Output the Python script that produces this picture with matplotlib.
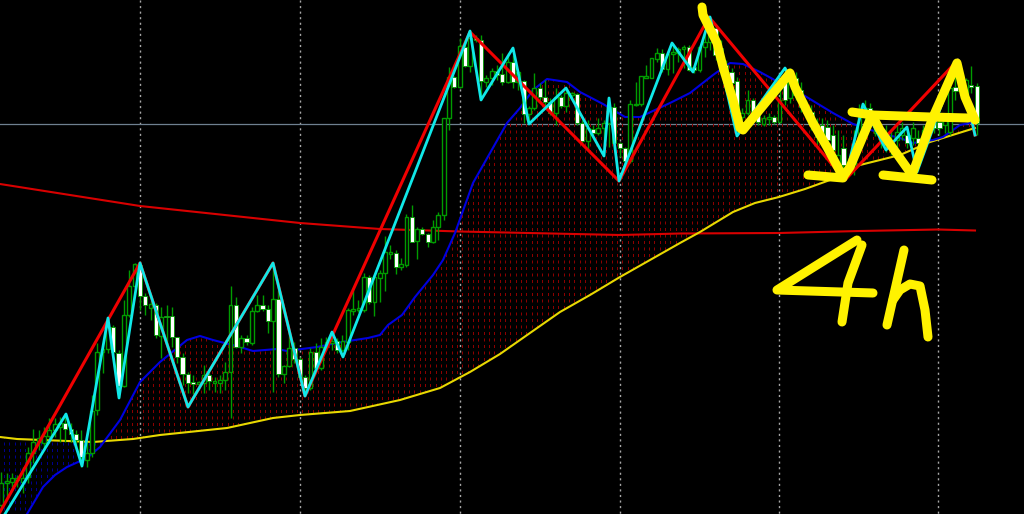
from matplotlib import pyplot as plt
from matplotlib.patches import Polygon
import numpy as np

# candles, one number per bar, y runs the same way as the picture
body_top = [483, 481, 478, 478, 478, 453, 442, 438, 436, 430,
            424, 423, 423, 429, 434, 440, 453, 411, 352, 349,
            327, 327, 353, 315, 286, 264, 265, 296, 304, 305,
            317, 316, 316, 337, 357, 374, 382, 382, 375, 375,
            381, 380, 372, 305, 305, 338, 338, 311, 305, 305,
            309, 299, 299, 366, 348, 348, 359, 377, 352, 352,
            347, 342, 341, 341, 341, 310, 309, 308, 277, 277,
            277, 273, 252, 252, 253, 264, 217, 217, 229, 229,
            234, 227, 215, 118, 77, 77, 46, 47, 38, 38,
            40, 78, 71, 71, 74, 62, 62, 72, 81, 108,
            88, 88, 97, 102, 97, 97, 93, 93, 94, 123,
            128, 129, 128, 123, 107, 107, 143, 148, 104, 104,
            76, 76, 58, 53, 53, 54, 52, 49, 47, 47,
            67, 47, 42, 20, 28, 48, 65, 72, 81, 113,
            100, 100, 115, 118, 117, 117, 100, 77, 75, 78,
            90, 106, 112, 125, 125, 127, 135, 155, 148, 165,
            145, 115, 108, 108, 120, 133, 133, 140, 132, 128,
            135, 128, 138, 130, 125, 123, 122, 120, 88, 87,
            75, 80, 85, 86]
body_bot = [505, 483, 482, 480, 482, 477, 453, 442, 443, 436,
            430, 427, 429, 434, 440, 457, 460, 453, 410, 352,
            349, 352, 386, 386, 315, 286, 296, 305, 308, 335,
            336, 317, 337, 357, 374, 383, 384, 384, 383, 381,
            383, 383, 380, 372, 347, 347, 342, 343, 311, 309,
            321, 321, 374, 374, 366, 359, 377, 388, 388, 368,
            368, 347, 343, 350, 350, 342, 311, 310, 310, 302,
            302, 278, 273, 254, 267, 267, 265, 242, 241, 234,
            242, 242, 227, 215, 118, 87, 87, 66, 66, 40,
            81, 82, 78, 75, 82, 82, 82, 82, 114, 114,
            108, 97, 102, 113, 113, 106, 106, 95, 123, 141,
            141, 133, 133, 128, 123, 143, 148, 161, 161, 105,
            104, 78, 78, 59, 69, 69, 54, 53, 49, 70,
            70, 70, 47, 42, 55, 71, 77, 83, 122, 117,
            113, 117, 122, 124, 119, 122, 122, 100, 98, 95,
            107, 112, 125, 137, 137, 140, 150, 165, 165, 170,
            167, 145, 115, 120, 133, 143, 145, 150, 140, 135,
            143, 138, 143, 135, 130, 128, 128, 125, 132, 91,
            85, 97, 87, 123]
wick_top = [472, 473, 473, 475, 467, 447, 429, 430, 427, 418,
            418, 417, 413, 423, 430, 430, 442, 395, 343, 343,
            317, 325, 350, 300, 270, 263, 263, 293, 300, 303,
            307, 305, 307, 337, 353, 372, 375, 381, 365, 373,
            377, 375, 362, 286, 297, 335, 335, 307, 295, 295,
            305, 263, 290, 365, 330, 342, 357, 375, 348, 343,
            338, 337, 332, 338, 335, 308, 290, 300, 273, 275,
            277, 270, 236, 245, 250, 258, 214, 205, 227, 227,
            233, 220, 212, 118, 67, 76, 38, 40, 32, 35,
            35, 75, 68, 65, 53, 53, 55, 70, 80, 106,
            73, 83, 80, 98, 88, 95, 88, 92, 93, 120,
            120, 125, 118, 120, 98, 103, 142, 147, 100, 82,
            76, 65, 58, 48, 49, 52, 43, 47, 45, 45,
            65, 45, 32, 18, 25, 40, 60, 68, 77, 108,
            90, 98, 115, 115, 113, 115, 88, 70, 68, 72,
            82, 100, 105, 118, 118, 120, 125, 130, 135, 160,
            130, 104, 100, 103, 115, 125, 125, 130, 125, 122,
            128, 122, 130, 125, 113, 115, 118, 115, 72, 73,
            70, 78, 66, 83]
wick_bot = [507, 497, 487, 487, 493, 483, 463, 450, 450, 443,
            437, 442, 442, 442, 447, 467, 467, 457, 415, 373,
            353, 355, 398, 387, 317, 288, 310, 315, 320, 338,
            358, 345, 347, 363, 385, 393, 394, 390, 393, 390,
            392, 393, 390, 418, 348, 353, 345, 345, 312, 311,
            333, 392, 377, 383, 367, 363, 380, 392, 390, 370,
            370, 350, 350, 353, 352, 350, 315, 312, 312, 304,
            316, 302, 291, 259, 274, 270, 267, 242, 259, 235,
            247, 243, 240, 220, 130, 88, 88, 67, 72, 42,
            100, 87, 85, 80, 85, 83, 88, 90, 123, 122,
            110, 100, 107, 115, 125, 108, 112, 100, 125, 143,
            150, 135, 135, 147, 147, 144, 157, 163, 163, 106,
            106, 78, 78, 62, 72, 75, 73, 62, 68, 71,
            73, 72, 57, 50, 60, 75, 82, 90, 130, 120,
            115, 120, 125, 126, 125, 124, 123, 105, 103, 100,
            112, 118, 130, 145, 145, 150, 160, 180, 175, 175,
            175, 150, 120, 125, 136, 148, 152, 155, 148, 140,
            148, 145, 150, 140, 135, 133, 135, 133, 135, 100,
            92, 100, 93, 135]
is_white = [0, 0, 0, 0, 0, 0, 0, 0, 0, 0,
            0, 0, 1, 1, 1, 1, 0, 0, 0, 0,
            0, 1, 1, 0, 0, 0, 1, 1, 0, 1,
            0, 1, 1, 1, 1, 1, 1, 0, 0, 1,
            0, 0, 0, 0, 1, 0, 1, 0, 0, 1,
            1, 0, 1, 0, 0, 1, 1, 1, 0, 1,
            0, 0, 0, 1, 0, 0, 0, 0, 0, 1,
            0, 0, 0, 0, 1, 0, 0, 1, 0, 1,
            1, 0, 0, 0, 0, 1, 0, 1, 0, 1,
            1, 0, 0, 1, 1, 0, 1, 0, 1, 0,
            0, 1, 1, 1, 0, 1, 0, 0, 1, 1,
            0, 1, 0, 0, 0, 1, 1, 1, 0, 0,
            0, 0, 0, 0, 1, 0, 0, 0, 0, 1,
            1, 0, 0, 0, 1, 1, 1, 1, 1, 0,
            0, 1, 1, 0, 0, 1, 0, 1, 0, 1,
            1, 1, 1, 1, 1, 1, 1, 0, 1, 1,
            0, 0, 0, 1, 0, 1, 1, 0, 0, 0,
            1, 0, 1, 0, 0, 1, 1, 0, 0, 1,
            0, 0, 1, 1]

# zigzags
red_x = [0, 140, 188, 273, 305, 470, 619, 709, 845, 958, 975]
red_y = [512, 263, 407, 263, 396, 32, 181, 17, 180, 60, 135]
cyan_x = [5, 66, 82, 108, 119, 140, 188, 273, 305, 332, 343, 470, 481, 513, 529, 566, 604, 609, 619,
          672, 693, 710, 737, 785, 845, 863, 886, 907, 917, 958, 975]
cyan_y = [514, 414, 466, 318, 398, 263, 407, 263, 396, 332, 357, 31, 100, 48, 124, 88, 156, 98, 181,
          43, 72, 17, 136, 68, 180, 104, 150, 127, 172, 60, 135]

# moving averages
blue_x = [0, 27, 43, 55, 67, 87, 100, 120, 140, 160, 187, 200, 213, 240, 253, 277, 287, 317, 342, 368, 380,
          388, 402, 415, 433, 443, 455, 473, 507, 520, 533, 547, 567, 580, 603, 625, 640, 670, 690, 713,
          730, 743, 760, 780, 800, 833, 853, 880, 900, 913, 933, 943, 960, 975]
blue_y = [560, 514, 487, 475, 467, 458, 447, 420, 382, 362, 340, 336, 340, 347, 351, 349, 351, 347, 342, 338, 335,
          325, 315, 297, 275, 260, 233, 183, 123, 108, 90, 79, 82, 92, 104, 117, 117, 103, 93, 75,
          63, 64, 72, 83, 93, 113, 124, 133, 138, 143, 140, 137, 125, 122]
yellow_x = [0, 17, 93, 133, 160, 227, 273, 300, 350, 400, 440, 470, 500, 530, 560, 590, 620, 650, 680, 700, 733,
            755, 779, 805, 830, 860, 900, 930, 975]
yellow_y = [437, 439, 442, 439, 435, 428, 418, 415, 411, 400, 388, 372, 354, 333, 312, 295, 277, 260, 243, 232, 212,
            203, 197, 189, 180, 165, 155, 142, 128]
slow_x = [0, 140, 300, 340, 380, 460, 620, 680, 779, 860, 938, 975]
slow_y = [184, 206, 223, 226, 229, 231.5, 235, 233.5, 233, 231, 229.5, 230.5]

# hand drawn marks on top
zig_x = [702, 703, 717, 723, 733, 740, 743, 790, 795, 813, 827, 843, 850, 872, 880, 912, 933, 957, 965, 975]
zig_y = [7, 15, 43, 67, 100, 128, 130, 73, 87, 123, 147, 177, 167, 115, 130, 175, 117, 63, 97, 120]
bar_x = [852, 872, 930, 968]
bar_y = [112, 115, 117, 118]
foot1_x = [808, 843]
foot1_y = [175, 178]
foot2_x = [883, 932]
foot2_y = [175, 180]
four_a_x = [857, 777, 873]
four_a_y = [240, 290, 293]
four_b_x = [862, 848, 842]
four_b_y = [245, 283, 322]
h_a_x = [904, 887]
h_a_y = [250, 325]
h_b_x = [893, 900, 910, 920, 925, 928]
h_b_y = [300, 290, 284, 286, 310, 337]

grid_x = [140, 300, 460, 620, 779, 938]
price_line = 124

x = 1.33 + 5.33 * np.arange(len(body_top))
top = np.array(body_top)
bot = np.array(body_bot)
white = np.array(is_white) == 1
green = '#009c00'

fig = plt.figure(figsize=(10.24, 5.14), dpi=100, facecolor='black')
ax = fig.add_axes([0, 0, 1, 1], facecolor='black')
ax.set_xlim(0, 1024)
ax.set_ylim(514, 0)
ax.axis('off')

ax.vlines(grid_x, 0, 514, color='#a8a8a8', linewidth=1, linestyle=(0, (1.5, 2.5)), zorder=1)
ax.axhline(price_line, color='#6f8090', linewidth=0.9, zorder=1)

# hatching between fast and slow average, cut out with a clip polygon
region = Polygon(list(zip(blue_x, blue_y)) + list(zip(yellow_x[::-1], yellow_y[::-1])), transform=ax.transData)
left = x < 100
for mask, col in [(left, '#00008c'), (~left, '#8c0000')]:
    hatch = ax.vlines(x[mask] + 2.6, 0, 514, color=col, linewidth=0.72, linestyle=(0, (3, 3.5)), zorder=2)
    hatch.set_clip_path(region)

ax.plot(slow_x, slow_y, color='#d80000', linewidth=1.5, zorder=3)
ax.plot(yellow_x, yellow_y, color='#e8d800', linewidth=1.5, zorder=3)
ax.plot(blue_x, blue_y, color='#0000e0', linewidth=1.5, zorder=3)

ax.vlines(x, wick_top, wick_bot, color=green, linewidth=1, zorder=4)
ax.bar(x[~white], (bot - top)[~white], bottom=top[~white], width=3.8,
       color='black', edgecolor=green, linewidth=1, zorder=5)
ax.bar(x[white], (bot - top)[white], bottom=top[white], width=4.2,
       color='white', edgecolor=green, linewidth=0.6, zorder=5)

ax.plot(red_x, red_y, color='#f00000', linewidth=2.2, zorder=6)
ax.plot(cyan_x, cyan_y, color='#10e8e8', linewidth=2, zorder=7)

for sx, sy in [(zig_x, zig_y), (bar_x, bar_y), (foot1_x, foot1_y), (foot2_x, foot2_y),
               (four_a_x, four_a_y), (four_b_x, four_b_y), (h_a_x, h_a_y), (h_b_x, h_b_y)]:
    ax.plot(sx, sy, color='#fff200', linewidth=6.5, solid_capstyle='round', solid_joinstyle='round', zorder=8)

plt.savefig('out.png', dpi=100, facecolor='black')
